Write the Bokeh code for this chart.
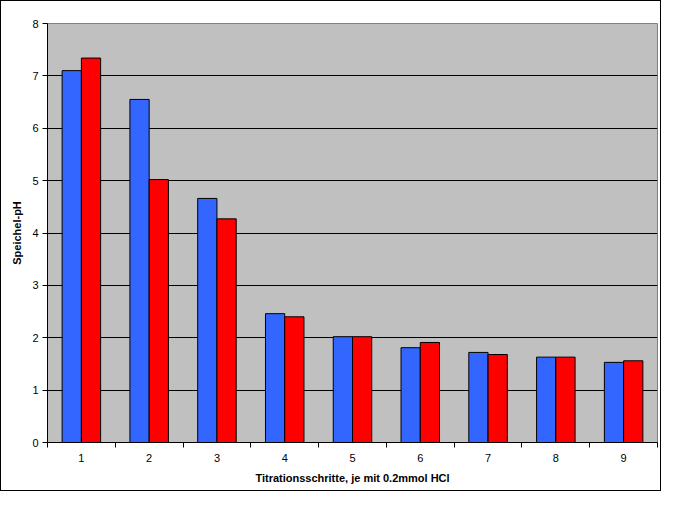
from bokeh.plotting import figure
from bokeh.models import ColumnDataSource, Range1d, FixedTicker
from bokeh.transform import dodge
from bokeh.embed import file_html
from bokeh.resources import INLINE

step_labels = ["1", "2", "3", "4", "5", "6", "7", "8", "9"]
steps = [1, 2, 3, 4, 5, 6, 7, 8, 9]
series_a = [7.10, 6.55, 4.66, 2.46, 2.02, 1.81, 1.72, 1.63, 1.53]
series_b = [7.34, 5.02, 4.27, 2.40, 2.02, 1.91, 1.68, 1.63, 1.56]
y_ticks = [0, 1, 2, 3, 4, 5, 6, 7, 8]

src = ColumnDataSource(dict(x=steps, a=series_a, b=series_b))

W, H = 661, 491
p = figure(x_range=Range1d(steps[0] - 0.5, steps[-1] + 0.5), y_range=Range1d(0, 8),
           width=W, height=H, output_backend="svg", toolbar_location=None,
           min_border_left=46, min_border_right=5, min_border_top=22, min_border_bottom=50)
p.styles = {"border": "1px solid black", "box-sizing": "border-box"}

p.background_fill_color = "#C0C0C0"
p.outline_line_color = "#808080"
p.outline_line_width = 1

bw = 0.284
p.vbar(x=dodge("x", -bw / 2), top="a", width=bw, source=src,
       fill_color="#3366FF", line_color="black", line_width=1)
p.vbar(x=dodge("x", bw / 2), top="b", width=bw, source=src,
       fill_color="#FF0000", line_color="black", line_width=1)

p.xgrid.grid_line_color = None
p.ygrid.grid_line_color = "black"
p.ygrid.grid_line_alpha = 1
p.ygrid.ticker = FixedTicker(ticks=y_ticks[1:-1])
p.yaxis.ticker = FixedTicker(ticks=y_ticks)
p.xaxis.ticker = FixedTicker(ticks=steps, minor_ticks=[s - 0.5 for s in steps] + [steps[-1] + 0.5])
p.xaxis.major_label_overrides = {s: lab for s, lab in zip(steps, step_labels)}

for ax in (p.xaxis[0], p.yaxis[0]):
    ax.axis_line_color = "black"
    ax.major_tick_line_color = "black"
    ax.minor_tick_line_color = None
    ax.major_tick_out = 5
    ax.major_tick_in = 0
    ax.major_label_text_font = "Liberation Sans"
    ax.major_label_text_font_size = "11px"
    ax.major_label_text_color = "black"
    ax.axis_label_text_font = "Liberation Sans"
    ax.axis_label_text_font_size = "11px"
    ax.axis_label_text_font_style = "bold"
    ax.axis_label_text_color = "black"

# x axis: ticks between categories, labels at centres
p.xaxis.major_tick_line_color = None
p.xaxis.minor_tick_line_color = "black"
p.xaxis.minor_tick_out = 5
p.xaxis.minor_tick_in = 0
p.xaxis.major_tick_out = 5

p.xaxis.axis_label = "Titrationsschritte, je mit 0.2mmol HCl"
p.yaxis.axis_label = "Speichel-pH"
p.xaxis.major_label_standoff = 6
p.xaxis.axis_label_standoff = 7
p.yaxis.major_label_standoff = 4
p.yaxis.axis_label_standoff = 6

open("out.html", "w").write(file_html(p, INLINE))
